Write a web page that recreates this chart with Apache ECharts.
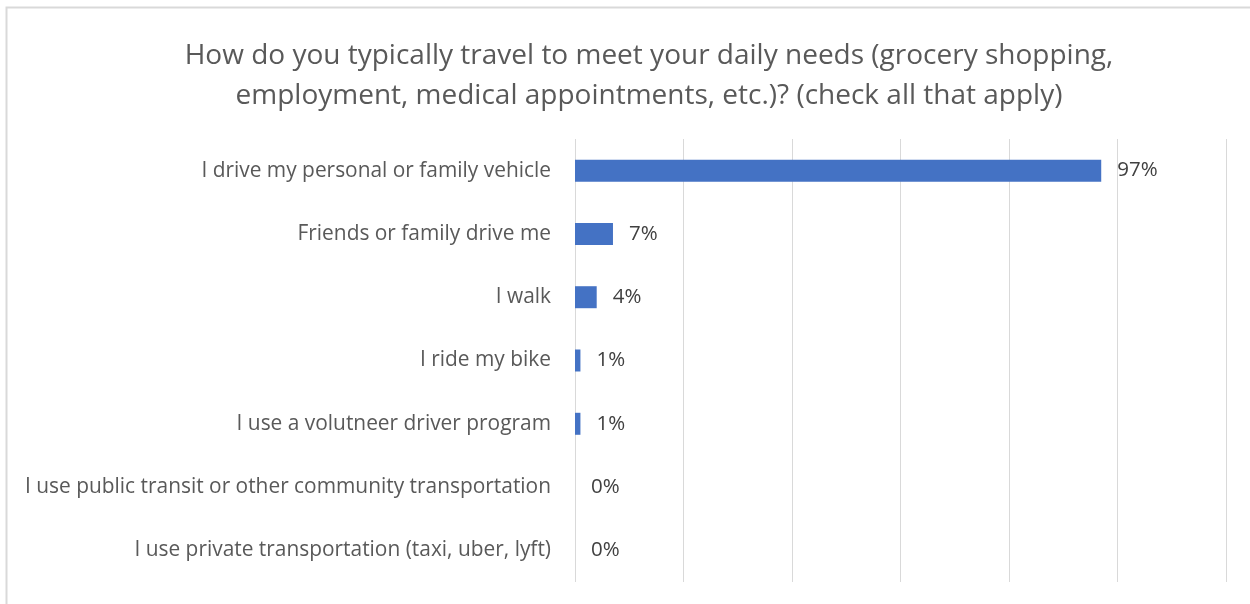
<!DOCTYPE html>
<html><head><meta charset="utf-8">
<script src="https://cdn.jsdelivr.net/npm/echarts@6/dist/echarts.min.js"></script>
<style>html,body{margin:0;padding:0;background:#fff}#c{width:1250px;height:604px}</style>
</head><body><div id="c"></div>
<script>
const titleText = "How do you typically travel to meet your daily needs (grocery shopping,\nemployment, medical appointments, etc.)? (check all that apply)";
const categories = [
  "I drive my personal or family vehicle",
  "Friends or family drive me",
  "I walk",
  "I ride my bike",
  "I use a volutneer driver program",
  "I use public transit or other community transportation",
  "I use private transportation (taxi, uber, lyft)"
];
const values = [97, 7, 4, 1, 1, 0, 0];
const xTicks = [0, 20, 40, 60, 80, 100, 120];

const chart = echarts.init(document.getElementById('c'), null, {renderer: 'canvas'});
const font = "'Open Sans', 'Liberation Sans', sans-serif";
chart.setOption({
  animation: false,
  backgroundColor: '#fff',
  title: {
    text: titleText,
    left: 644, textAlign: 'center', top: 31,
    textStyle: {color: '#595959', fontSize: 28, fontWeight: 'normal', fontFamily: font, lineHeight: 40}
  },
  graphic: [{
    type: 'rect', shape: {x: 6.5, y: 7.5, width: 1400, height: 800},
    style: {fill: 'none', stroke: '#d9d9d9', lineWidth: 2}, silent: true, z: -1
  }],
  grid: {left: 575, right: 24, top: 139, bottom: 22, containLabel: false},
  xAxis: {
    type: 'value', min: xTicks[0], max: xTicks[xTicks.length - 1], interval: 20,
    axisLabel: {show: false}, axisLine: {show: false}, axisTick: {show: false},
    splitLine: {show: true, lineStyle: {color: '#d9d9d9', width: 1}}
  },
  yAxis: {
    type: 'category', data: categories, inverse: true,
    axisLine: {show: false}, axisTick: {show: false},
    axisLabel: {color: '#595959', fontSize: 20.9, fontFamily: font, margin: 24}
  },
  series: [{
    type: 'bar', data: values, barWidth: 22,
    itemStyle: {color: '#4472c4'},
    label: {show: true, position: 'right', distance: 16, formatter: '{c}%',
      color: '#404040', fontSize: 20.5, fontFamily: font}
  }]
});
</script></body></html>
